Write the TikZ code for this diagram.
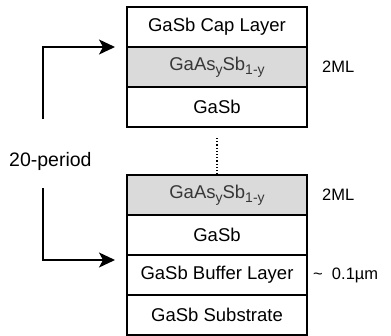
\documentclass[tikz,border=0pt]{standalone}
\usepackage{fontspec}
\setmainfont{Liberation Sans}
\usetikzlibrary{arrows.meta,positioning}
\definecolor{layergray}{RGB}{218,218,218}
\definecolor{welltext}{RGB}{55,55,55}
\newcommand{\lowsub}[1]{\raisebox{-0.45ex}{\fontsize{14}{16}\selectfont #1}}
\newcommand{\GaAsSb}{GaAs\lowsub{y}Sb\lowsub{1-y}}
\tikzset{
  layer/.style={draw=black, line width=1.5pt, minimum width=180pt, minimum height=40pt,
                inner sep=0pt, outer sep=0pt, font=\fontsize{18.5}{20}\selectfont},
  welllayer/.style={layer, fill=layergray, text=welltext},
  note/.style={font=\fontsize{16.5}{18}\selectfont, inner sep=0pt},
  perarr/.style={-{Stealth[length=16pt,width=15pt,inset=4pt]}, line width=1.5pt},
}
\begin{document}
\begin{tikzpicture}[x=1pt,y=1pt]
    \useasboundingbox (0,0) rectangle (391,-335);
    % upper period
    \node[layer, anchor=north west] (cap) at (127,-7) {GaSb Cap Layer};
    \node[welllayer, below=0pt of cap] (well1) {\GaAsSb};
    \node[layer, below=0pt of well1] (gasb1) {GaSb};
    % lower period and substrate
    \node[welllayer, anchor=north west] (well2) at (127,-175) {\GaAsSb};
    \node[layer, below=0pt of well2] (gasb2) {GaSb};
    \node[layer, below=0pt of gasb2] (buffer) {GaSb Buffer Layer};
    \node[layer, below=0pt of buffer] (sub) {GaSb Substrate};
    \draw[dotted, line width=1.2pt] ([yshift=-11pt]gasb1.south) -- (well2.north);
    % labels
    \node[note, right=15pt of well1] (ml1) {2ML};
    \node[note, right=15pt of well2] (ml2) {2ML};
    \node[note, right=6pt of buffer] (thick) {\textasciitilde\ \ 0.1µm};
    \node[font=\fontsize{19.5}{22}\selectfont, inner sep=0pt, anchor=west] (period) at (9,-161) {20-period};
    \coordinate (uptail) at (43,-119);
    \coordinate (downtail) at (43,-188);
    \draw[perarr] (uptail) |- ([xshift=-12pt]well1.north west);
    \draw[perarr] (downtail) |- ([xshift=-12pt,yshift=-5pt]buffer.north west);
\end{tikzpicture}
\end{document}
